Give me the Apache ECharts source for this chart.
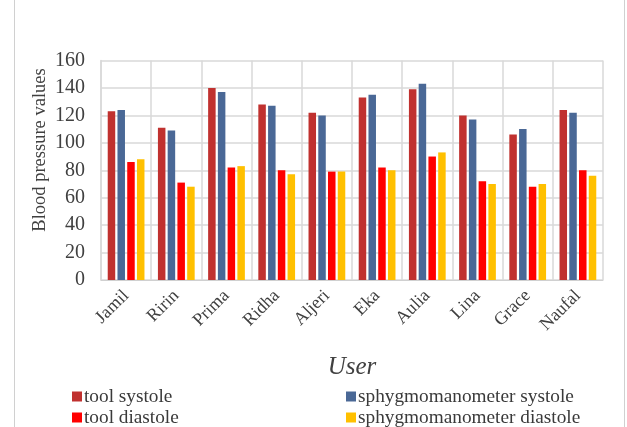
<!DOCTYPE html>
<html><head><meta charset="utf-8">
<script src="https://cdn.jsdelivr.net/npm/echarts@6/dist/echarts.min.js"></script>
<style>html,body{margin:0;padding:0;background:#fff}#c{width:627px;height:427px}</style>
</head><body><div id="c"></div>
<script>
const users = ['Jamil','Ririn','Prima','Ridha','Aljeri','Eka','Aulia','Lina','Grace','Naufal'];
const toolSystole = [123,111,140,128,122,133,139,120,106,124];
const sphygSystole = [124,109,137,127,120,135,143,117,110,122];
const toolDiastole = [86,71,82,80,79,82,90,72,68,80];
const sphygDiastole = [88,68,83,77,79,80,93,70,70,76];
const seriesNames = ['tool systole','sphygmomanometer systole','tool diastole','sphygmomanometer diastole'];
const colors = ['#C0312F','#4A6896','#FF0000','#FFC000'];
const font = 'Liberation Serif';
const chart = echarts.init(document.getElementById('c'));
const mk = (name, data, color) => ({name, type:'bar', data, barWidth:7.5, barGap:'30%', itemStyle:{color}});
const lg = (name, left, top) => ({data:[name], left, top, itemWidth:10, itemHeight:10, icon:'rect', padding:0,
  textStyle:{fontFamily:font, fontSize:19.3, color:'#3a3a3a', padding:[0,0,0,-3]}});
chart.setOption({
  animation:false,
  color: colors,
  graphic:[
    {type:'rect', shape:{x:14.5,y:-5,width:610,height:440}, style:{fill:'none', stroke:'#d0d0d0', lineWidth:1}},
    {type:'text', x:40, y:150, rotation:Math.PI/2, style:{text:'Blood pressure values', font:'18.5px "Liberation Serif"', fill:'#404040', textAlign:'center', textVerticalAlign:'middle'}}
  ],
  grid:{left:101, right:24, top:60.5, bottom:147, containLabel:false},
  legend:[
    lg(seriesNames[0], 72, 387),
    lg(seriesNames[2], 72, 408),
    lg(seriesNames[1], 346, 387),
    lg(seriesNames[3], 346, 408)
  ],
  xAxis:{type:'category', data:users, boundaryGap:true,
    name:'User', nameLocation:'middle', nameGap:75,
    nameTextStyle:{fontFamily:font, fontSize:25, fontStyle:'italic', color:'#404040'},
    axisLine:{lineStyle:{color:'#d0d0d0'}}, axisTick:{show:false},
    axisLabel:{rotate:45, fontFamily:font, fontSize:18, color:'#404040', margin:13, interval:0},
    splitLine:{show:true, lineStyle:{color:'#d9d9d9', width:1.5}}},
  yAxis:{type:'value', min:0, max:160, interval:20,
    axisLine:{show:true, lineStyle:{color:'#d9d9d9', width:1.5}}, axisTick:{show:false},
    axisLabel:{fontFamily:font, fontSize:20, color:'#404040', margin:16},
    splitLine:{show:true, lineStyle:{color:'#d9d9d9', width:1.5}}},
  series:[
    mk(seriesNames[0], toolSystole, colors[0]),
    mk(seriesNames[1], sphygSystole, colors[1]),
    mk(seriesNames[2], toolDiastole, colors[2]),
    mk(seriesNames[3], sphygDiastole, colors[3])
  ]
});
</script></body></html>
